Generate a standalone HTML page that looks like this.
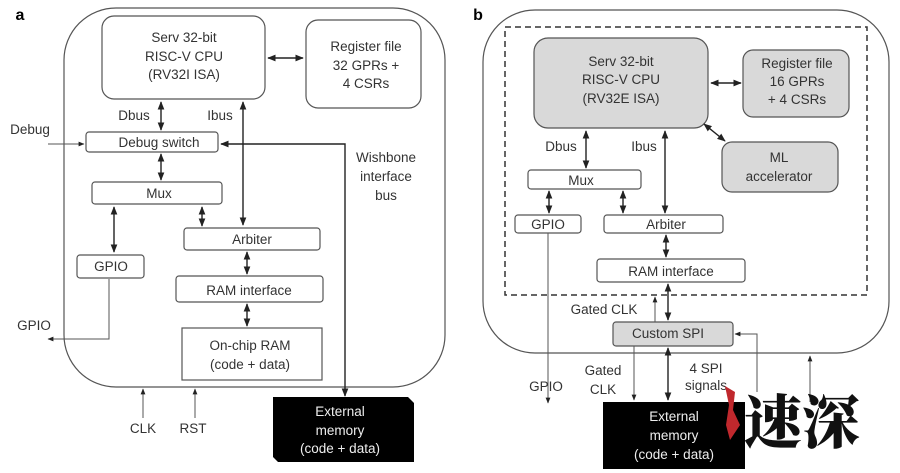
<!DOCTYPE html>
<html><head><meta charset="utf-8"><style>
html,body{margin:0;padding:0;background:#fff;}
svg{display:block;}
text{font-family:"Liberation Sans",Arial,sans-serif;font-size:13.5px;fill:#333;text-anchor:middle;}
.w{fill:#eee;}
</style></head><body>
<svg width="900" height="473" viewBox="0 0 900 473" xmlns="http://www.w3.org/2000/svg">
<defs>
<marker id="a" viewBox="0 0 10 10" refX="9" refY="5" markerWidth="6" markerHeight="6" orient="auto-start-reverse"><path d="M0,1 L10,5 L0,9 z" fill="#222"/></marker>
</defs>
<g fill="none" stroke="#555" stroke-width="1.2">
<rect x="64" y="8" width="381" height="379" rx="52"/>
<rect x="102" y="16" width="163" height="83" rx="12"/>
<rect x="306" y="20" width="115" height="88" rx="12"/>
<rect x="86" y="132" width="132" height="20" rx="3"/>
<rect x="92" y="182" width="130" height="22" rx="3"/>
<rect x="77" y="255" width="67" height="23" rx="3"/>
<rect x="184" y="228" width="136" height="22" rx="3"/>
<rect x="176" y="276" width="147" height="26" rx="3"/>
<rect x="182" y="328" width="140" height="52"/>
</g>
<g stroke="#222" stroke-width="1.4" fill="none">
<line x1="268" y1="58" x2="303" y2="58" marker-start="url(#a)" marker-end="url(#a)"/>
<line x1="161" y1="102" x2="161" y2="130" marker-start="url(#a)" marker-end="url(#a)"/>
<line x1="243" y1="102" x2="243" y2="225" marker-start="url(#a)" marker-end="url(#a)"/>
<line x1="161" y1="154" x2="161" y2="180" marker-start="url(#a)" marker-end="url(#a)"/>
<line x1="114" y1="207" x2="114" y2="252" marker-start="url(#a)" marker-end="url(#a)"/>
<line x1="202" y1="207" x2="202" y2="226" marker-start="url(#a)" marker-end="url(#a)"/>
<line x1="247" y1="252" x2="247" y2="274" marker-start="url(#a)" marker-end="url(#a)"/>
<line x1="247" y1="304" x2="247" y2="326" marker-start="url(#a)" marker-end="url(#a)"/>
<polyline points="345,396 345,144 221,144" marker-start="url(#a)" marker-end="url(#a)"/>
</g>
<g stroke="#555" stroke-width="1" fill="none">
<line x1="48" y1="144" x2="84" y2="144" marker-end="url(#a)"/>
<polyline points="109,279 109,339 48,339" marker-end="url(#a)"/>
<line x1="143" y1="418" x2="143" y2="389" marker-end="url(#a)"/>
<line x1="195" y1="418" x2="195" y2="389" marker-end="url(#a)"/>
</g>
<path d="M273,397 L408,397 L414,403 L414,462 L278,462 L273,457 Z" fill="#000"/>
<text x="20" y="20" style="font-weight:bold;font-size:16px;fill:#000">a</text>
<text x="184" y="42">Serv 32-bit</text><text x="184" y="61">RISC-V CPU</text><text x="184" y="79">(RV32I ISA)</text>
<text x="366" y="51">Register file</text><text x="366" y="70">32 GPRs +</text><text x="366" y="88">4 CSRs</text>
<text x="134" y="120">Dbus</text><text x="220" y="120">Ibus</text>
<text x="30" y="134">Debug</text>
<text x="159" y="147">Debug switch</text>
<text x="386" y="162">Wishbone</text><text x="386" y="181">interface</text><text x="386" y="200">bus</text>
<text x="159" y="198">Mux</text>
<text x="111" y="271">GPIO</text>
<text x="252" y="244">Arbiter</text>
<text x="249" y="295">RAM interface</text>
<text x="250" y="350">On-chip RAM</text><text x="250" y="369">(code + data)</text>
<text x="34" y="330">GPIO</text>
<text x="143" y="433">CLK</text><text x="193" y="433">RST</text>
<text x="340" y="416" class="w">External</text><text x="340" y="435" class="w">memory</text><text x="340" y="453" class="w">(code + data)</text>

<g fill="none" stroke="#555" stroke-width="1.2">
<rect x="483" y="10" width="406" height="343" rx="52"/>
<rect x="505" y="27" width="362" height="268" stroke-dasharray="6,4" stroke="#333" stroke-width="1.5"/>
<rect x="534" y="38" width="174" height="90" rx="14" fill="#d9d9d9"/>
<rect x="743" y="50" width="106" height="67" rx="10" fill="#d9d9d9"/>
<rect x="722" y="142" width="116" height="50" rx="10" fill="#d9d9d9"/>
<rect x="528" y="170" width="113" height="19" rx="3"/>
<rect x="515" y="215" width="66" height="18" rx="3"/>
<rect x="604" y="215" width="119" height="18" rx="3"/>
<rect x="597" y="259" width="148" height="23" rx="3"/>
<rect x="613" y="322" width="120" height="24" rx="3" fill="#d9d9d9"/>
</g>
<g stroke="#222" stroke-width="1.4" fill="none">
<line x1="711" y1="83" x2="741" y2="83" marker-start="url(#a)" marker-end="url(#a)"/>
<line x1="704" y1="124" x2="725" y2="141" marker-start="url(#a)" marker-end="url(#a)"/>
<line x1="586" y1="131" x2="586" y2="168" marker-start="url(#a)" marker-end="url(#a)"/>
<line x1="665" y1="131" x2="665" y2="213" marker-start="url(#a)" marker-end="url(#a)"/>
<line x1="549" y1="191" x2="549" y2="213" marker-start="url(#a)" marker-end="url(#a)"/>
<line x1="623" y1="191" x2="623" y2="213" marker-start="url(#a)" marker-end="url(#a)"/>
<line x1="666" y1="235" x2="666" y2="257" marker-start="url(#a)" marker-end="url(#a)"/>
<line x1="668" y1="284" x2="668" y2="320" marker-start="url(#a)" marker-end="url(#a)"/>
<line x1="668" y1="348" x2="668" y2="400" marker-start="url(#a)" marker-end="url(#a)"/>
</g>
<g stroke="#555" stroke-width="1" fill="none">
<line x1="655" y1="322" x2="655" y2="297" marker-end="url(#a)"/>
<line x1="548" y1="233" x2="548" y2="403" marker-end="url(#a)"/>
<line x1="634" y1="346" x2="634" y2="400" marker-end="url(#a)"/>
<polyline points="757,392 757,334 735,334" marker-end="url(#a)"/>
<line x1="810" y1="402" x2="810" y2="356" marker-end="url(#a)"/>
</g>
<rect x="603" y="402" width="142" height="67" fill="#000"/>
<text x="478" y="20" style="font-weight:bold;font-size:16px;fill:#000">b</text>
<text x="621" y="66">Serv 32-bit</text><text x="621" y="84">RISC-V CPU</text><text x="621" y="103">(RV32E ISA)</text>
<text x="797" y="68">Register file</text><text x="797" y="86">16 GPRs</text><text x="797" y="104">+ 4 CSRs</text>
<text x="779" y="162">ML</text><text x="779" y="181">accelerator</text>
<text x="561" y="151">Dbus</text><text x="644" y="151">Ibus</text>
<text x="581" y="185">Mux</text>
<text x="548" y="229">GPIO</text>
<text x="666" y="229">Arbiter</text>
<text x="671" y="276">RAM interface</text>
<text x="604" y="314">Gated CLK</text>
<text x="668" y="338">Custom SPI</text>
<text x="546" y="391">GPIO</text>
<text x="603" y="375">Gated</text><text x="603" y="394">CLK</text>
<text x="706" y="373">4 SPI</text><text x="706" y="390">signals</text>
<text x="674" y="421" class="w">External</text><text x="674" y="440" class="w">memory</text><text x="674" y="459" class="w">(code + data)</text>
<path d="M725,386 L735,392 L733,410 L740,425 L730,440 L726,425 L729,405 Z" fill="#c0282d"/>
<text x="802" y="443" style="font-family:'Noto Serif CJK SC','WenQuanYi Zen Hei',serif;font-size:58px;font-weight:900;fill:#111">速深</text>
</svg>
</body></html>
